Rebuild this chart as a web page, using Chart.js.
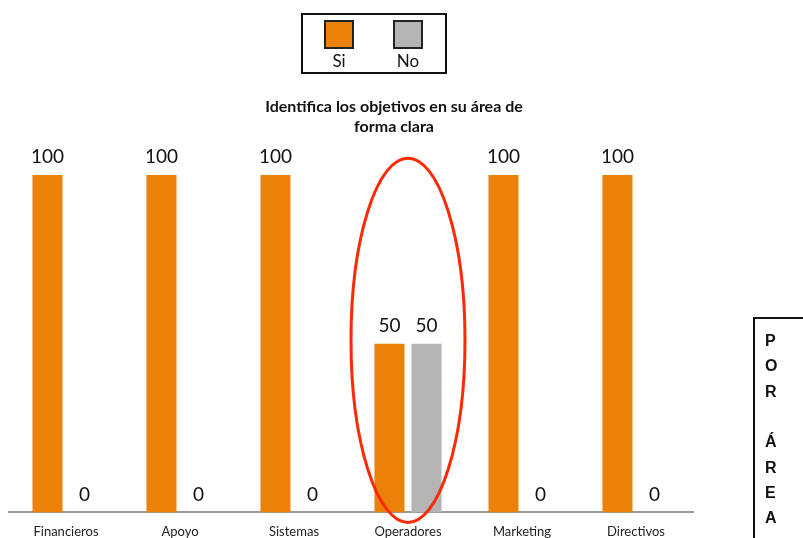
<!DOCTYPE html>
<html>
<head>
<meta charset="utf-8">
<script src="https://cdn.jsdelivr.net/npm/chart.js@4"></script>
<style>
  html, body { margin: 0; padding: 0; background: #fff; }
  #wrap { position: relative; width: 803px; height: 538px; overflow: hidden; }
  #chart { position: absolute; left: 0; top: 0; }
  #side {
    position: absolute; left: 753px; top: 317px; width: 80px; height: 260px;
    border-left: 2px solid #111; border-top: 2px solid #111;
    font-family: "Liberation Sans", Arial, sans-serif; font-weight: bold;
    font-size: 16px; color: #111;
  }
  #side span { position: absolute; left: 10px; line-height: 18px; }
</style>
</head>
<body>
<div id="wrap">
  <canvas id="chart" width="803" height="538"></canvas>
  <div id="side"></div>
</div>
<script>
// Areas surveyed and the share of answers per option
const categories = ['Financieros', 'Apoyo', 'Sistemas', 'Operadores', 'Marketing', 'Directivos'];
const siValues = [100, 100, 100, 50, 100, 100];
const noValues = [0, 0, 0, 50, 0, 0];
const seriesNames = ['Si', 'No'];
const titleLines = ['Identifica los objetivos en su área de', 'forma clara'];
const sideLetters = ['P', 'O', 'R', '', 'Á', 'R', 'E', 'A'];
const highlightCategory = 'Operadores';

const ORANGE = '#EB8108';
const GRAY = '#B4B4B4';
const FONT = 'Lato, "Open Sans", sans-serif';

// vertical caption on the right
const side = document.getElementById('side');
sideLetters.forEach((ch, i) => {
  const s = document.createElement('span');
  s.textContent = ch;
  s.style.top = (13 + i * 25.3) + 'px';
  side.appendChild(s);
});

// two-line chart heading
const heading = {
  id: 'heading',
  afterDraw(chart) {
    const ctx = chart.ctx;
    ctx.save();
    ctx.font = 'bold 16px ' + FONT;
    ctx.fillStyle = '#111';
    ctx.textAlign = 'center';
    ctx.textBaseline = 'middle';
    titleLines.forEach((t, i) => ctx.fillText(t, 394, 107 + i * 20));
    ctx.restore();
  }
};

// value labels above every bar
const valueLabels = {
  id: 'valueLabels',
  afterDatasetsDraw(chart) {
    const ctx = chart.ctx;
    ctx.save();
    ctx.font = '19px ' + FONT;
    ctx.fillStyle = '#111';
    ctx.textAlign = 'center';
    ctx.textBaseline = 'middle';
    chart.data.datasets.forEach((ds, di) => {
      chart.getDatasetMeta(di).data.forEach((bar, i) => {
        ctx.fillText(String(ds.data[i]), bar.x, bar.y - 18);
      });
    });
    ctx.restore();
  }
};

// red ellipse drawn around one category
const highlight = {
  id: 'highlight',
  afterDatasetsDraw(chart) {
    const x = chart.scales.x, y = chart.scales.y;
    const idx = chart.data.labels.indexOf(highlightCategory);
    if (idx < 0) return;
    const cx = x.getPixelForValue(idx);
    const top = y.getPixelForValue(105);
    const bottom = y.getPixelForValue(0) + 10;
    const ctx = chart.ctx;
    ctx.save();
    ctx.strokeStyle = '#FA2A05';
    ctx.lineWidth = 3;
    ctx.beginPath();
    ctx.ellipse(cx, (top + bottom) / 2, 57, (bottom - top) / 2, 0, 0, Math.PI * 2);
    ctx.stroke();
    ctx.restore();
  }
};

// boxed legend with swatches above their names
const boxLegend = {
  id: 'boxLegend',
  afterDraw(chart) {
    const ctx = chart.ctx;
    ctx.save();
    ctx.lineWidth = 2;
    ctx.strokeStyle = '#111';
    ctx.strokeRect(302, 14, 144, 59);
    chart.data.datasets.forEach((ds, i) => {
      const cx = 339 + i * 69;
      ctx.fillStyle = ds.backgroundColor;
      ctx.fillRect(cx - 14, 21, 28, 27);
      ctx.strokeStyle = '#222';
      ctx.strokeRect(cx - 14, 21, 28, 27);
      ctx.fillStyle = '#111';
      ctx.font = '17px ' + FONT;
      ctx.textAlign = 'center';
      ctx.textBaseline = 'middle';
      ctx.fillText(ds.label, cx, 62);
    });
    ctx.restore();
  }
};

new Chart(document.getElementById('chart'), {
  type: 'bar',
  data: {
    labels: categories,
    datasets: [
      { label: seriesNames[0], data: siValues, backgroundColor: ORANGE },
      { label: seriesNames[1], data: noValues, backgroundColor: GRAY }
    ]
  },
  options: {
    responsive: false,
    animation: false,
    devicePixelRatio: 1,
    categoryPercentage: 0.65,
    barPercentage: 0.81,
    layout: { padding: { top: 175, left: 9, right: 110, bottom: -14 } },
    plugins: {
      legend: { display: false },
      tooltip: { enabled: false },
      title: { display: false }
    },
    scales: {
      x: {
        grid: { display: false, drawTicks: false },
        border: { display: true, color: '#9A9A9A', width: 2 },
        ticks: { color: '#222', font: { family: FONT, size: 13 }, padding: 12 }
      },
      y: {
        display: false,
        min: 0,
        max: 100
      }
    }
  },
  plugins: [valueLabels, highlight, boxLegend, heading]
});
</script>
</body>
</html>
